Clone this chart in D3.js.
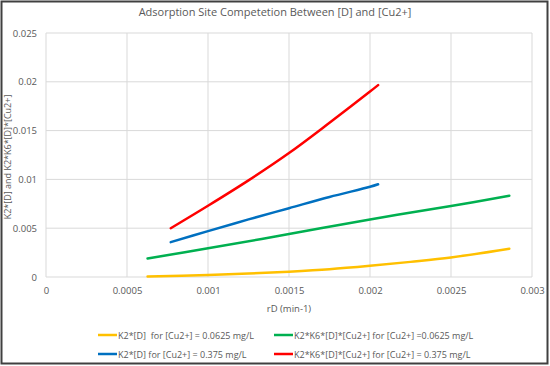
<!DOCTYPE html>
<html>
<head>
<meta charset="utf-8">
<script src="https://cdn.jsdelivr.net/npm/d3@7"></script>
<style>
  body { margin: 0; background: #fff; }
  svg text { font-family: "Open Sans", "Liberation Sans", sans-serif; fill: #595959; }
</style>
</head>
<body>
<svg id="chart" width="550" height="366"></svg>
<script>
// series: x = rD (min-1)
var yellowX = [0.000627, 0.001, 0.00125, 0.0015, 0.00175, 0.002, 0.00225, 0.0025, 0.00286];
var yellowY = [0.00005, 0.0002, 0.00035, 0.00055, 0.0008, 0.00115, 0.00155, 0.002, 0.0029];
var greenX = [0.000627, 0.001, 0.0015, 0.002, 0.0025, 0.00286];
var greenY = [0.0019, 0.00294, 0.0044, 0.0059, 0.00727, 0.00833];
var blueX = [0.00077, 0.001, 0.00125, 0.0015, 0.00175, 0.002, 0.00205];
var blueY = [0.00357, 0.0047, 0.0059, 0.00705, 0.0082, 0.00924, 0.0095];
var redX = [0.00077, 0.001, 0.00125, 0.0015, 0.00175, 0.002, 0.00205];
var redY = [0.0050, 0.0073, 0.0099, 0.0127, 0.0158, 0.0190, 0.01966];

var xTicks = [0, 0.0005, 0.001, 0.0015, 0.002, 0.0025, 0.003];
var yTicks = [0, 0.005, 0.01, 0.015, 0.02, 0.025];

var seriesNames = [
  "K2*[D]\u00A0\u00A0for [Cu2+] = 0.0625 mg/L",
  "K2*K6*[D]*[Cu2+] for [Cu2+] =0.0625 mg/L",
  "K2*[D] for [Cu2+] = 0.375 mg/L",
  "K2*K6*[D]*[Cu2+] for [Cu2+] = 0.375 mg/L"
];
var seriesColors = ["#FFC000", "#00B050", "#0070C0", "#FF0000"];

var series = [
  yellowX.map(function(x, i) { return [x, yellowY[i]]; }),
  greenX.map(function(x, i) { return [x, greenY[i]]; }),
  blueX.map(function(x, i) { return [x, blueY[i]]; }),
  redX.map(function(x, i) { return [x, redY[i]]; })
];

var svg = d3.select("#chart");

// outer frame
svg.append("rect")
  .attr("x", 1.5).attr("y", 1.5)
  .attr("width", 546).attr("height", 362)
  .attr("fill", "#fff")
  .attr("stroke", "#404040")
  .attr("stroke-width", 2);

var x = d3.scaleLinear().domain([0, 0.003]).range([46, 532]);
var y = d3.scaleLinear().domain([0, 0.025]).range([277, 33]);

// grid
svg.append("g").selectAll("line.h")
  .data(yTicks).enter().append("line")
  .attr("x1", x(0)).attr("x2", x(0.003))
  .attr("y1", function(d) { return y(d); })
  .attr("y2", function(d) { return y(d); })
  .attr("stroke", "#d9d9d9").attr("stroke-width", 1);

svg.append("g").selectAll("line.v")
  .data(xTicks).enter().append("line")
  .attr("x1", function(d) { return x(d); })
  .attr("x2", function(d) { return x(d); })
  .attr("y1", y(0)).attr("y2", y(0.025))
  .attr("stroke", "#d9d9d9").attr("stroke-width", 1);

// axes (labels only)
var xAxis = svg.append("g")
  .attr("transform", "translate(0," + (y(0) + 4) + ")")
  .call(d3.axisBottom(x).tickValues(xTicks).tickSize(0).tickFormat(function(d) { return String(+d.toFixed(4)); }));
xAxis.select(".domain").remove();
xAxis.selectAll("text").attr("font-size", 9.5).attr("dy", "1em")
  .style("font-family", "'Open Sans', sans-serif").attr("fill", "#595959");

var yAxis = svg.append("g")
  .attr("transform", "translate(" + (x(0) - 6) + ",0)")
  .call(d3.axisLeft(y).tickValues(yTicks).tickSize(0).tickFormat(function(d) { return String(+d.toFixed(3)); }));
yAxis.select(".domain").remove();
yAxis.selectAll("text").attr("font-size", 9.5)
  .style("font-family", "'Open Sans', sans-serif").attr("fill", "#595959");

// title and axis titles
svg.append("text")
  .attr("x", 275).attr("y", 16)
  .attr("text-anchor", "middle")
  .attr("font-size", 11)
  .text("Adsorption Site Competetion Between [D] and [Cu2+]");

svg.append("text")
  .attr("x", 289).attr("y", 312)
  .attr("text-anchor", "middle")
  .attr("font-size", 9.5)
  .text("rD (min-1)");

svg.append("text")
  .attr("transform", "translate(11," + (y(0.0125) + 2) + ") rotate(-90)")
  .attr("text-anchor", "middle")
  .attr("font-size", 9)
  .text("K2*[D] and K2*K6*[D]*[Cu2+]");

// lines
var line = d3.line()
  .x(function(d) { return x(d[0]); })
  .y(function(d) { return y(d[1]); })
  .curve(d3.curveCatmullRom.alpha(0.5));

svg.append("g").selectAll("path")
  .data(series).enter().append("path")
  .attr("d", line)
  .attr("fill", "none")
  .attr("stroke", function(d, i) { return seriesColors[i]; })
  .attr("stroke-width", 2.5)
  .attr("stroke-linecap", "round");

// legend
var legendPos = [[98, 335], [274, 335], [98, 354], [274, 354]];
var legend = svg.append("g").selectAll("g")
  .data(seriesNames).enter().append("g")
  .attr("transform", function(d, i) { return "translate(" + legendPos[i][0] + "," + legendPos[i][1] + ")"; });

legend.append("line")
  .attr("x1", 0).attr("x2", 19).attr("y1", 0).attr("y2", 0)
  .attr("stroke", function(d, i) { return seriesColors[i]; })
  .attr("stroke-width", 2.5);

legend.append("text")
  .attr("x", 20).attr("y", 3.5)
  .attr("font-size", 9)
  .text(function(d) { return d; });
</script>
</body>
</html>
